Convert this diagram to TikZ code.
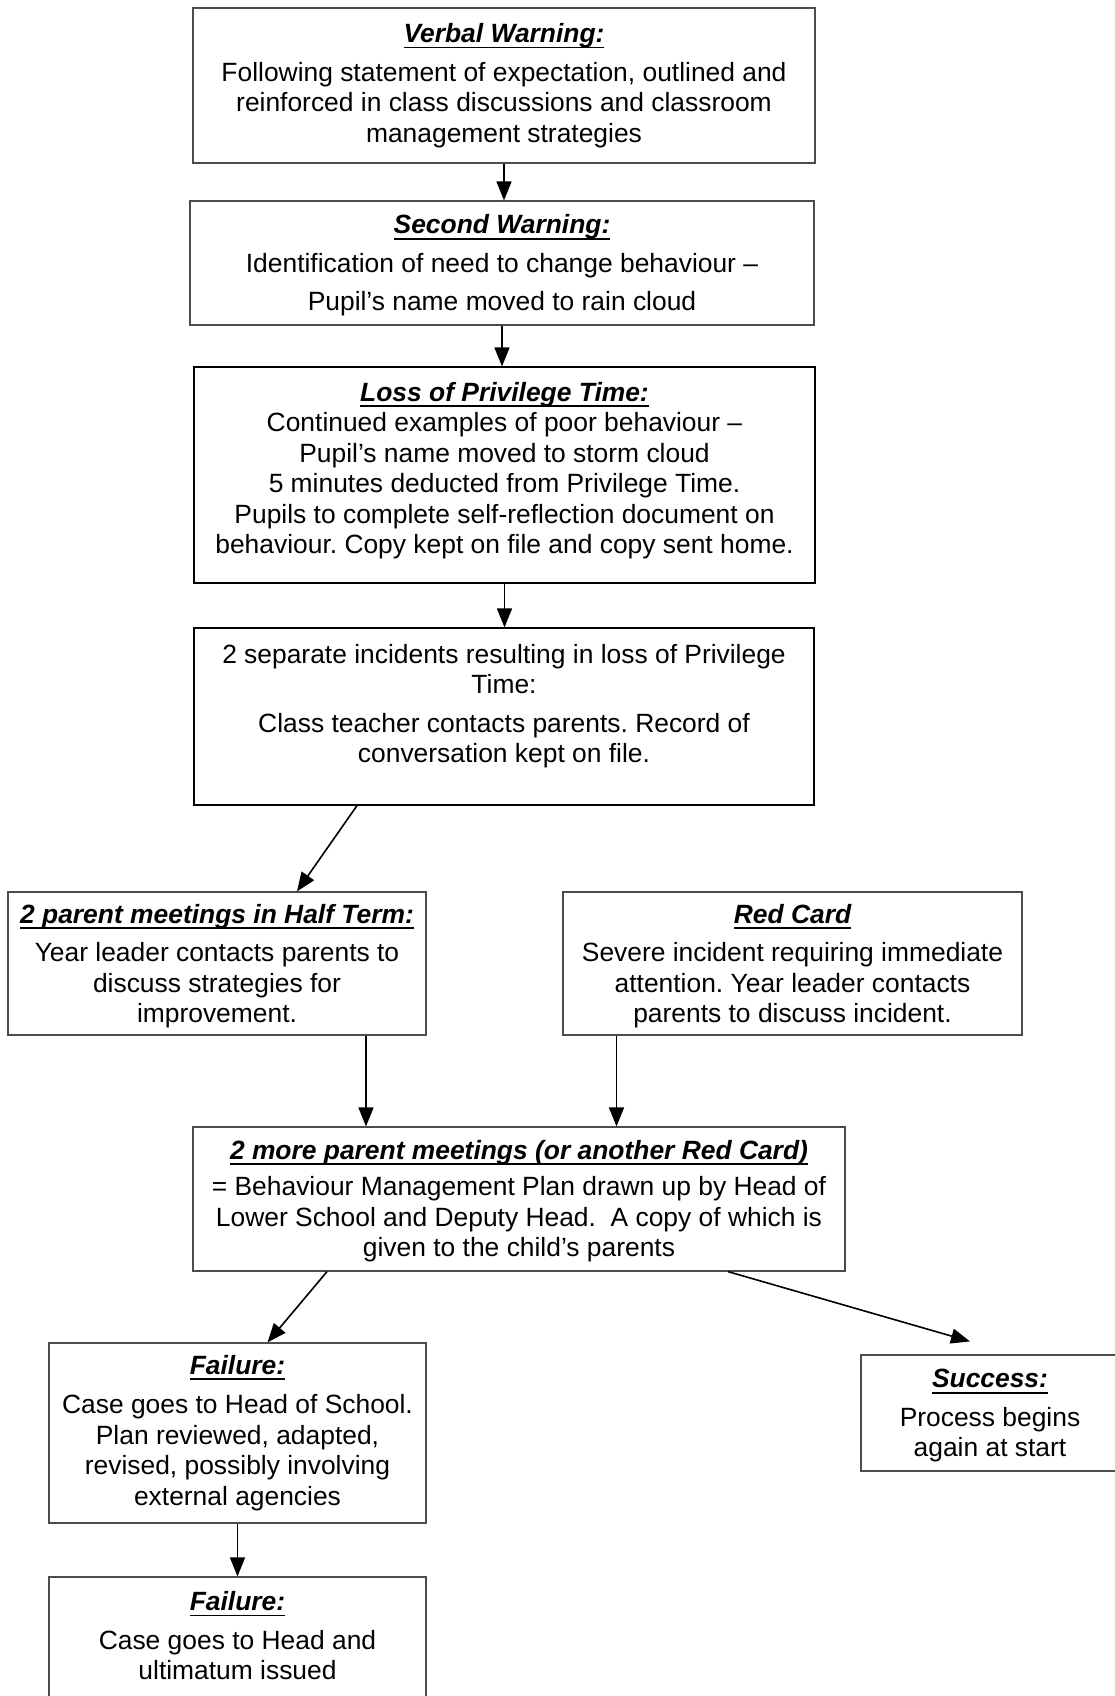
\documentclass[tikz,border=0pt]{standalone}
\usepackage{fontspec}
\setmainfont{Liberation Sans}
\usetikzlibrary{arrows.meta}
\frenchspacing
\newcommand{\titre}[1]{\setbox0\hbox{\bfseries\itshape #1}\rlap{\rule[-2.9pt]{\wd0}{0.85pt}}\box0}
\begin{document}
\begin{tikzpicture}[x=0.5pt,y=-0.5pt]
% Styles
\tikzstyle{fleche}=[-{Triangle[length=9.5pt,width=7.5pt]},line width=0.8pt]
\tikzstyle{boite}=[draw=black!70,line width=0.6pt,rectangle,align=center,inner sep=0pt,font=\fontsize{13.2pt}{15.25pt}\selectfont]
\tikzstyle{boitenoire}=[boite,draw=black]
% Cadre
\useasboundingbox (0,0) rectangle (1114,1696);
% Noeuds
\node[boite,minimum width=311pt,minimum height=77.5pt] (verbal) at (504,85.5)
  {\titre{Verbal Warning:}\\[4pt] Following statement of expectation, outlined and\\ reinforced in class discussions and classroom\\ management strategies};
\node[boite,minimum width=312pt,minimum height=62pt,text depth=0.2pt] (second) at (502,263)
  {\titre{Second Warning:}\\[4pt] Identification of need to change behaviour --\\[4pt] Pupil’s name moved to rain cloud};
\node[boitenoire,minimum width=310.5pt,minimum height=108pt,text depth=7pt] (loss) at (504.5,475)
  {\titre{Loss of Privilege Time:}\\ Continued examples of poor behaviour --\\ Pupil’s name moved to storm cloud\\ 5 minutes deducted from Privilege Time.\\ Pupils to complete self-reflection document on\\ behaviour. Copy kept on file and copy sent home.};
\node[boitenoire,minimum width=310pt,minimum height=88.5pt,text depth=13pt] (incidents) at (504,716.5)
  {2 separate incidents resulting in loss of Privilege\\ Time:\\[4pt] Class teacher contacts parents. Record of\\ conversation kept on file.};
\node[boite,minimum width=209pt,minimum height=71.5pt,text depth=-1.6pt] (halfterm) at (217,963.5)
  {\titre{2 parent meetings in Half Term:}\\[4pt] Year leader contacts parents to\\ discuss strategies for\\ improvement.};
\node[boite,minimum width=229.5pt,minimum height=71.5pt,text depth=-1.6pt] (redcard) at (792.5,963.5)
  {\titre{Red Card}\\[4pt] Severe incident requiring immediate\\ attention. Year leader contacts\\ parents to discuss incident.};
\node[boite,minimum width=326pt,minimum height=72pt,text depth=0.6pt] (plan) at (519,1199)
  {\titre{2 more parent meetings (or another Red Card)}\\[3pt] = Behaviour Management Plan drawn up by Head of\\ Lower School and Deputy Head.\ \ A copy of which is\\ given to the child’s parents};
\node[boite,minimum width=188.5pt,minimum height=90pt] (echec1) at (237.5,1433)
  {\titre{Failure:}\\[4.5pt] Case goes to Head of School.\\ Plan reviewed, adapted,\\ revised, possibly involving\\ external agencies};
\node[boite,minimum width=129pt,minimum height=58pt,text depth=-0.4pt] (succes) at (990,1413)
  {\titre{Success:}\\[4pt] Process begins\\ again at start};
\node[boite,minimum width=188.5pt,minimum height=71.5pt,text depth=13pt] (echec2) at (237.5,1648.5)
  {\titre{Failure:}\\[4pt] Case goes to Head and\\ ultimatum issued};
% Fleches
\draw[fleche] (verbal.south) -- (verbal.south |- second.north);
\draw[fleche] (second.south) -- (second.south |- loss.north);
\draw[fleche] (loss.south) -- (loss.south |- incidents.north);
\draw[fleche] ([xshift=-73.5pt]incidents.south) -- ([xshift=40pt]halfterm.north);
\draw[fleche] ([xshift=74.5pt]halfterm.south) -- ([xshift=74.5pt]halfterm.south |- plan.north);
\draw[fleche] ([xshift=-88pt]redcard.south) -- ([xshift=-88pt]redcard.south |- plan.north);
\draw[fleche] ([xshift=-96pt]plan.south) -- ([xshift=15pt]echec1.north);
\draw[fleche] ([xshift=104.5pt]plan.south) -- ([xshift=-10pt,yshift=6.5pt]succes.north);
\draw[fleche] (echec1.south) -- (echec1.south |- echec2.north);
\end{tikzpicture}
\end{document}
